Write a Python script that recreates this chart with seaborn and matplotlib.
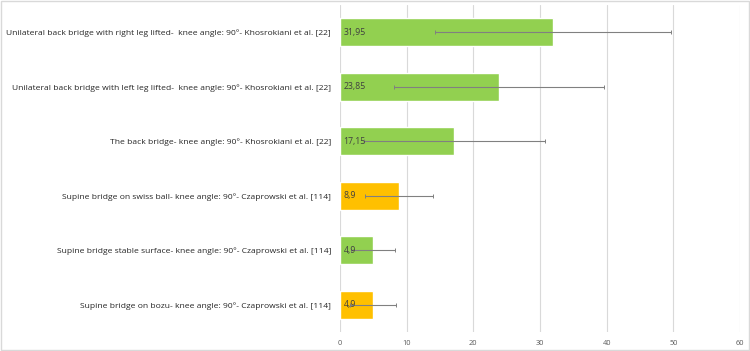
import matplotlib
matplotlib.use("Agg")
import matplotlib.pyplot as plt
import seaborn as sns
import pandas as pd

categories = [
    "Unilateral back bridge with right leg lifted-  knee angle: 90°- Khosrokiani et al. [22]",
    "Unilateral back bridge with left leg lifted-  knee angle: 90°- Khosrokiani et al. [22]",
    "The back bridge- knee angle: 90°- Khosrokiani et al. [22]",
    "Supine bridge on swiss ball- knee angle: 90°- Czaprowski et al. [114]",
    "Supine bridge stable surface- knee angle: 90°- Czaprowski et al. [114]",
    "Supine bridge on bozu- knee angle: 90°- Czaprowski et al. [114]",
]
values = [31.95, 23.85, 17.15, 8.9, 4.9, 4.9]
errors = [17.75, 15.75, 13.6, 5.1, 3.3, 3.45]
value_labels = ["31,95", "23,85", "17,15", "8,9", "4,9", "4,9"]
colors = ["#92D050", "#92D050", "#92D050", "#FFC000", "#92D050", "#FFC000"]
xticks = [0, 10, 20, 30, 40, 50, 60]

sns.set_theme(style="white")
plt.rcParams["font.family"] = ["Open Sans", "DejaVu Sans"]

df = pd.DataFrame({"cat": categories, "val": values})

fig = plt.figure(figsize=(7.5, 3.51), dpi=100)
ax = fig.add_axes([0.4533, 0.054, 0.5334, 0.9318])

sns.barplot(data=df, y="cat", x="val", hue="cat", palette=colors, dodge=False,
            legend=False, width=0.51, ax=ax, saturation=1, errorbar=None)

ax.errorbar(values, range(len(values)), xerr=errors, fmt="none",
            ecolor="#808080", elinewidth=0.8, capsize=1.2, capthick=0.7, zorder=3)

for i, (v, lab) in enumerate(zip(values, value_labels)):
    ax.text(0.55, i, lab, va="center", ha="left", fontsize=6.3, color="#404040", zorder=4)

ax.set_xlim(0, 60)
ax.set_ylim(len(values) - 0.5, -0.5)
ax.set_xticks(xticks)
ax.set_xticklabels([str(t) for t in xticks], fontsize=5.3, color="#595959")
ax.tick_params(axis="y", labelsize=6.1, labelcolor="#262626", length=0, pad=6.5)
ax.tick_params(axis="x", length=0, pad=5.5)
ax.set_xlabel("")
ax.set_ylabel("")
ax.grid(axis="x", color="#d9d9d9", linewidth=0.8)
ax.set_axisbelow(True)
for s in ax.spines.values():
    s.set_visible(False)

fig.patches.append(plt.Rectangle((0.001, 0.002), 0.997, 0.995, transform=fig.transFigure,
                                 fill=False, edgecolor="#d9d9d9", linewidth=1))

fig.savefig("out.png", dpi=100, facecolor="white")
